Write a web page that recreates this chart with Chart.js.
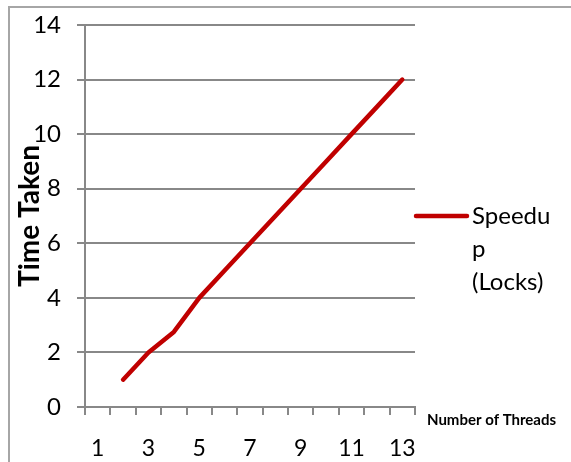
<!DOCTYPE html>
<html>
<head>
<meta charset="utf-8">
<script src="https://cdn.jsdelivr.net/npm/chart.js@4/dist/chart.umd.min.js"></script>
<style>
  html, body { margin: 0; padding: 0; background: #ffffff; }
  #wrap { width: 571px; height: 462px; }
</style>
</head>
<body>
<div id="wrap"><canvas id="c" width="571" height="462"></canvas></div>
<script>
// Thread counts on the x axis
const threads = ['1', '2', '3', '4', '5', '6', '7', '8', '9', '10', '11', '12', '13'];
// Speedup measured with locks (no run for a single thread)
const speedupLocks = [null, 1, 2, 2.75, 4, 5, 6, 7, 8, 9, 10, 11, 12];
// Legend text, wrapped as in the legend box
const legendLines = ['Speedu', 'p', '(Locks)'];
const yTitle = 'Time Taken';
const xTitle = 'Number of Threads';

const FONT = 'Lato, "Liberation Sans", sans-serif';
const GRID = '#888888';
const RED = '#c00000';

// Outer frame, the x title beside the axis and the legend on the right
const decorations = {
  id: 'decorations',
  beforeDraw(chart) {
    const ctx = chart.ctx;
    ctx.save();
    ctx.strokeStyle = '#a6a6a6';
    ctx.lineWidth = 2;
    ctx.strokeRect(9, 7, 700, 600);
    ctx.restore();
  },
  afterDraw(chart) {
    const ctx = chart.ctx;
    const area = chart.chartArea;
    ctx.save();
    // x axis title, to the right of the axis end
    ctx.fillStyle = '#000000';
    ctx.font = 'bold 15px ' + FONT;
    ctx.textBaseline = 'middle';
    ctx.textAlign = 'left';
    ctx.fillText(xTitle, area.right + 12, area.bottom + 13);

    // legend: one entry per dataset
    chart.data.datasets.forEach((ds) => {
      const y0 = 216;
      ctx.strokeStyle = ds.borderColor;
      ctx.lineWidth = ds.borderWidth;
      ctx.lineCap = 'round';
      ctx.beginPath();
      ctx.moveTo(area.right + 1, y0);
      ctx.lineTo(area.right + 52, y0);
      ctx.stroke();
      ctx.fillStyle = '#000000';
      ctx.font = '24px ' + FONT;
      ctx.textBaseline = 'middle';
      legendLines.forEach((t, i) => {
        ctx.fillText(t, area.right + 57, y0 + i * 33);
      });
    });
    ctx.restore();
  }
};

new Chart(document.getElementById('c'), {
  type: 'line',
  data: {
    labels: threads,
    datasets: [{
      label: 'Speedup (Locks)',
      data: speedupLocks,
      borderColor: RED,
      backgroundColor: RED,
      borderWidth: 4.5,
      pointRadius: 0,
      pointHoverRadius: 0,
      tension: 0,
      borderCapStyle: 'round',
      borderJoinStyle: 'round',
      spanGaps: false
    }]
  },
  options: {
    responsive: false,
    animation: false,
    layout: { padding: { top: 25, right: 156, bottom: 0, left: 0 } },
    plugins: {
      legend: { display: false },
      tooltip: { enabled: false },
      title: { display: false }
    },
    scales: {
      x: {
        type: 'category',
        offset: true,
        afterFit(scale) { scale.height = 55; },
        grid: {
          offset: true,
          drawOnChartArea: false,
          drawTicks: true,
          tickLength: 8,
          color: GRID,
          lineWidth: 2
        },
        border: { display: true, color: GRID, width: 2 },
        ticks: {
          autoSkip: false,
          maxRotation: 0,
          minRotation: 0,
          padding: 20,
          color: '#000000',
          font: { family: FONT, size: 23 },
          callback(value, index) {
            return index % 2 === 0 ? this.getLabelForValue(value) : '';
          }
        }
      },
      y: {
        min: 0,
        max: 14,
        afterFit(scale) {
          scale.width = 85;
          // let the layout padding alone set the plot top
          scale.paddingTop = 0;
          scale.paddingBottom = 0;
        },
        grid: {
          drawOnChartArea: true,
          drawTicks: true,
          tickLength: 8,
          color: GRID,
          lineWidth: 2
        },
        border: { display: true, color: GRID, width: 2 },
        ticks: {
          stepSize: 2,
          padding: 16,
          color: '#000000',
          font: { family: FONT, size: 24 }
        },
        title: {
          display: true,
          text: yTitle,
          color: '#000000',
          font: { family: FONT, size: 28, weight: 'bold' },
          padding: { top: 13, bottom: 0 }
        }
      }
    }
  },
  plugins: [decorations]
});
</script>
</body>
</html>
